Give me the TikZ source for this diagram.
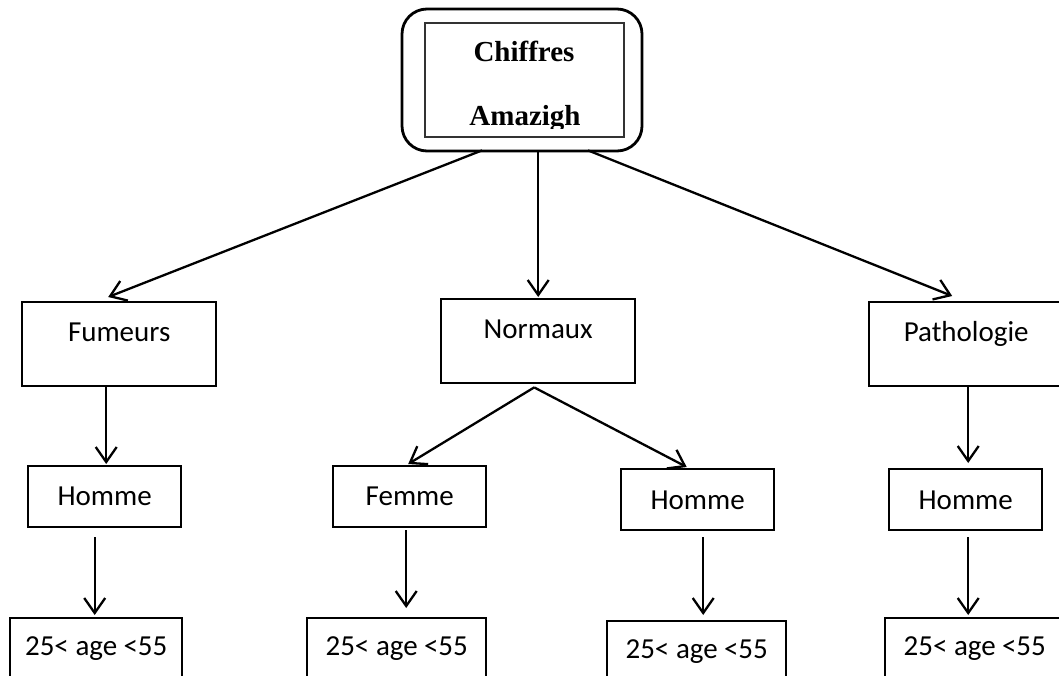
\documentclass[tikz,border=0pt]{standalone}
\usepackage{fontspec}
\setmainfont{Carlito}
\newfontfamily\titlefont{Liberation Serif}
\usetikzlibrary{arrows.meta}
\newcommand{\agerange}{25<\kern-3pt\ age\ \kern-3.5pt<55}
\tikzset{
  box/.style={draw, line width=2.4pt, inner sep=0pt, align=center, anchor=north west,
    font=\fontsize{29}{34}\selectfont},
  arr/.style={line width=2.3pt, -{Straight Barb[length=15pt,width=21pt,line width=2.3pt]}},
  ttl/.style={inner sep=0pt, anchor=base, font=\titlefont\bfseries\fontsize{29}{34}\selectfont}
}
\begin{document}
\begin{tikzpicture}[x=1pt,y=-1pt]
\useasboundingbox (0,0) rectangle (1059,675);
\clip (0,0) rectangle (1059,675);

% root
\node[draw, line width=2.8pt, rounded corners=25pt, minimum width=240pt, minimum height=142pt, inner sep=0pt] (root) at (522,80) {};
\node[draw, line width=1.4pt, draw=black!80, minimum width=199pt, minimum height=114pt, inner sep=0pt] (rootin) at (524.5,80) {};
\node[ttl] (chif) at (524,61) {Chiffres};
\begin{scope}
  \clip (425,23) rectangle (624,128);
  \node[ttl] (amaz) at (525,125) {Amazigh};
\end{scope}

% second level
\node[box, text width=194pt, text height=39pt, text depth=45pt] (fum) at (21,301) {Fumeurs};
\node[box, text width=194pt, text height=39pt, text depth=45pt] (norm) at (440,298) {Normaux};
\node[box, text width=194pt, text height=39pt, text depth=45pt] (path) at (868,301) {Pathologie};

% third level
\node[box, text width=153pt, text height=39pt, text depth=22pt] (hom1) at (27,465) {Homme};
\node[box, text width=153pt, text height=39pt, text depth=22pt] (fem) at (332,465) {Femme};
\node[box, text width=153pt, text height=40pt, text depth=21pt] (hom2) at (620,468) {Homme};
\node[box, text width=153pt, text height=40pt, text depth=21pt] (hom3) at (888,468) {Homme};

% age boxes
\node[box, text width=172pt, text height=37pt, text depth=60pt] (age1) at (9,617) {\agerange\hspace*{8pt}};
\node[box, text width=179pt, text height=37pt, text depth=60pt] (age2) at (306,617) {\agerange};
\node[box, text width=179pt, text height=37pt, text depth=60pt] (age3) at (606,620) {\agerange};
\node[box, text width=179pt, text height=37pt, text depth=60pt] (age4) at (884,617) {\agerange};

% connectors
\draw[arr] ([xshift=-40pt,yshift=2pt]root.south) -- ([xshift=-11pt,yshift=4pt]fum.north);
\draw[arr] (norm.north |- root.south) -- ([yshift=1pt]norm.north);
\draw[arr] ([xshift=66pt,yshift=2pt]root.south) -- ([xshift=-14pt,yshift=5pt]path.north);

\draw[arr] ([xshift=-13pt]fum.south) -- ([xshift=1.5pt,yshift=1pt]hom1.north);
\draw[arr] ([xshift=-10pt,yshift=-9pt]hom1.south) -- ([xshift=-10pt,yshift=2pt]hom1.south |- age1.north);

\draw[arr] ([xshift=-4pt,yshift=-3pt]norm.south) -- ([xshift=-1.5pt,yshift=1pt]fem.north);
\draw[arr] ([xshift=-4pt,yshift=-3pt]norm.south) -- ([xshift=-11pt,yshift=1pt]hom2.north);

\draw[arr] ([xshift=-3.5pt,yshift=-2pt]fem.south) -- ([xshift=-3.5pt,yshift=9pt]fem.south |- age2.north);
\draw[arr] ([xshift=5.5pt,yshift=-6pt]hom2.south) -- ([xshift=5.5pt,yshift=5pt]hom2.south |- age3.north);

\draw[arr] ([xshift=2pt]path.south) -- ([xshift=2pt,yshift=5pt]path.south |- hom3.north);
\draw[arr] ([xshift=2.5pt,yshift=-6pt]hom3.south) -- ([xshift=2.5pt,yshift=2pt]hom3.south |- age4.north);
\end{tikzpicture}
\end{document}
